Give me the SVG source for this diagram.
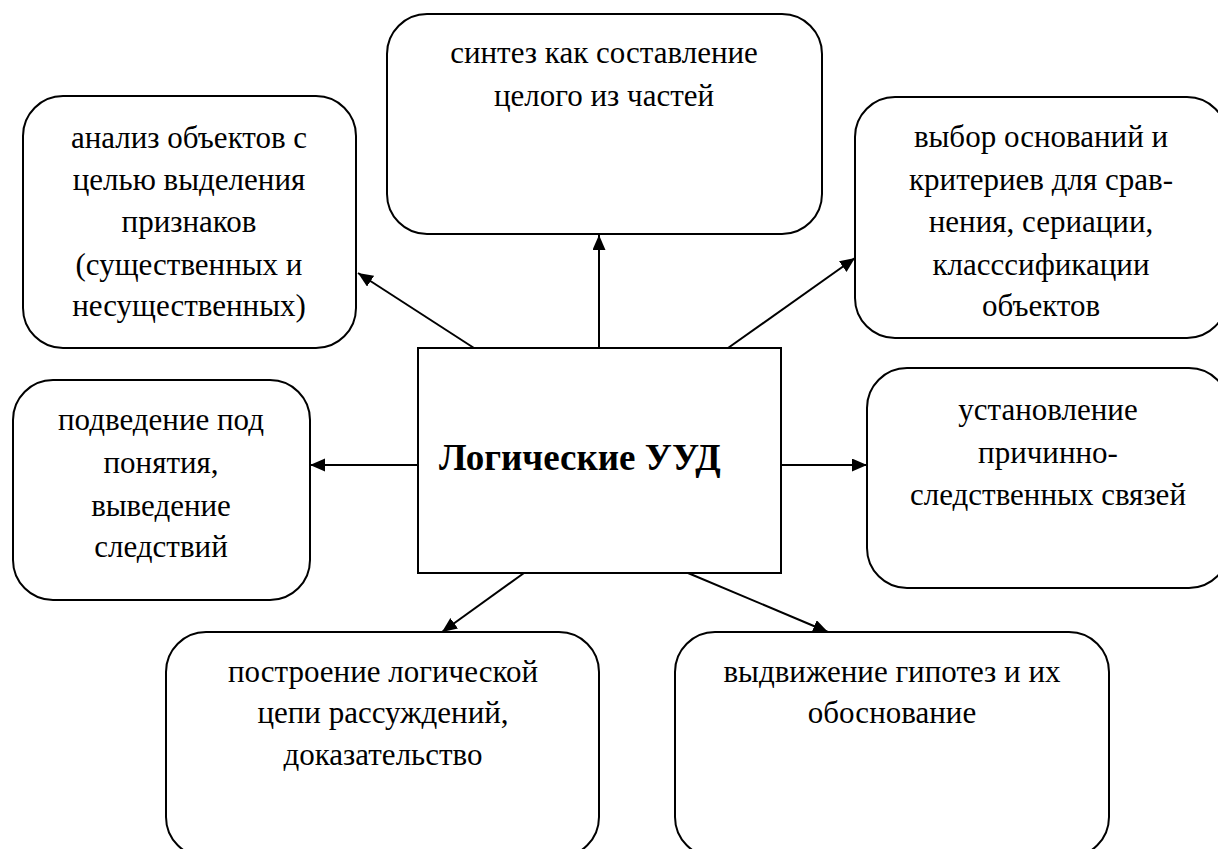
<svg xmlns="http://www.w3.org/2000/svg" width="1218" height="849" viewBox="0 0 1218 849">
<style>
.box{fill:#fff;stroke:#000;stroke-width:2}
.t{font-family:"Liberation Serif","Times New Roman","DejaVu Serif",serif;font-size:31px;fill:#000;text-anchor:middle}
.main{font-family:"Liberation Serif","Times New Roman","DejaVu Serif",serif;font-size:37px;font-weight:bold;fill:#000}
.c{stroke:#000;stroke-width:2;fill:none;marker-end:url(#ah)}
</style>
<defs>
<marker id="ah" markerUnits="userSpaceOnUse" markerWidth="16" markerHeight="14" refX="15" refY="6.5" orient="auto">
<path d="M0,0 L15,6.5 L0,13 z" fill="#000"/>
</marker>
</defs>
<rect width="1218" height="849" fill="#fff"/>
<g id="connectors">
<line class="c" x1="474" y1="348" x2="358" y2="273"/>
<line class="c" x1="599" y1="348" x2="599" y2="235"/>
<line class="c" x1="728" y1="348" x2="855" y2="258"/>
<line class="c" x1="418" y1="465" x2="310" y2="465"/>
<line class="c" x1="781" y1="465" x2="867" y2="465"/>
<line class="c" x1="524" y1="573" x2="442" y2="632"/>
<line class="c" x1="688" y1="573" x2="828" y2="632"/>
</g>
<g id="center">
<rect class="box" x="418" y="348" width="363" height="225"/>
<text class="main" x="439" y="470">Логические УУД</text>
</g>
<g id="synthesis">
<rect class="box" x="387" y="14" width="435" height="220" rx="40"/>
<text class="t" x="604" y="63">синтез как составление</text>
<text class="t" x="604" y="106">целого из частей</text>
</g>
<g id="analysis">
<rect class="box" x="23" y="96" width="333" height="252" rx="40"/>
<text class="t" x="189" y="148">анализ объектов с</text>
<text class="t" x="189" y="190">целью выделения</text>
<text class="t" x="189" y="232">признаков</text>
<text class="t" x="189" y="275">(существенных и</text>
<text class="t" x="189" y="316">несущественных)</text>
</g>
<g id="criteria">
<rect class="box" x="855" y="97" width="372" height="241" rx="40"/>
<text class="t" x="1041" y="147">выбор оснований и</text>
<text class="t" x="1041" y="190">критериев для срав-</text>
<text class="t" x="1041" y="232">нения, сериации,</text>
<text class="t" x="1041" y="275">класссификации</text>
<text class="t" x="1041" y="316">объектов</text>
</g>
<g id="concepts">
<rect class="box" x="13" y="380" width="297" height="220" rx="40"/>
<text class="t" x="161" y="430">подведение под</text>
<text class="t" x="161" y="473">понятия,</text>
<text class="t" x="161" y="516">выведение</text>
<text class="t" x="161" y="557">следствий</text>
</g>
<g id="causal">
<rect class="box" x="867" y="368" width="362" height="220" rx="40"/>
<text class="t" x="1048" y="420">установление</text>
<text class="t" x="1048" y="463">причинно-</text>
<text class="t" x="1048" y="505">следственных связей</text>
</g>
<g id="reasoning">
<rect class="box" x="166" y="632" width="433" height="225" rx="40"/>
<text class="t" x="383" y="682">построение логической</text>
<text class="t" x="383" y="723">цепи рассуждений,</text>
<text class="t" x="383" y="765">доказательство</text>
</g>
<g id="hypotheses">
<rect class="box" x="675" y="632" width="434" height="225" rx="40"/>
<text class="t" x="892" y="682">выдвижение гипотез и их</text>
<text class="t" x="892" y="723">обоснование</text>
</g>
</svg>
